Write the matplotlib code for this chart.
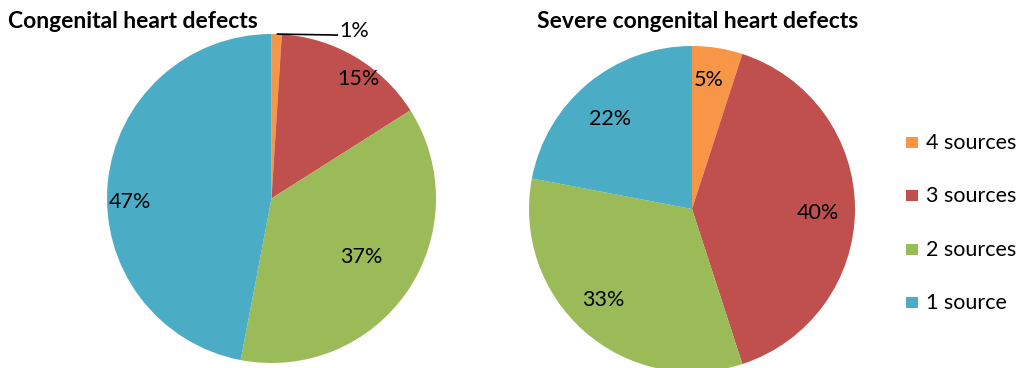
import matplotlib
matplotlib.use("Agg")
import matplotlib.pyplot as plt
from matplotlib.patches import Rectangle
import numpy as np

plt.rcParams['font.family'] = ['Lato', 'DejaVu Sans']

# Share of cases by number of ascertainment sources
series = ["4 sources", "3 sources", "2 sources", "1 source"]
colors = ["#F79646", "#C0504D", "#9BBB59", "#4BACC6"]
all_chd = [1, 15, 37, 47]
severe_chd = [5, 40, 33, 22]
titles = ["Congenital heart defects", "Severe congenital heart defects"]

W, H = 1034, 368
fig = plt.figure(figsize=(W / 100, H / 100), dpi=100)
LABEL_FS = 15.5
TITLE_FS = 16.5


def pie_axes(cx, cy, r):
    return fig.add_axes([(cx - r) / W, (H - cy - r) / H, 2 * r / W, 2 * r / H])


def draw_pie(ax, values, radial, angle_shift, outside=None):
    wedges, _ = ax.pie(values, colors=colors, startangle=90, counterclock=False,
                       radius=1, wedgeprops=dict(linewidth=0))
    ax.set_xlim(-1, 1)
    ax.set_ylim(-1, 1)
    ax.axis('off')
    for i, (w, v) in enumerate(zip(wedges, values)):
        mid = np.deg2rad((w.theta1 + w.theta2) / 2)
        txt = f"{v}%"
        if outside is not None and i == outside:
            x0, y0 = np.cos(mid), np.sin(mid)
            ax.plot([x0, 0.405], [y0, y0 - 0.006], color='black', lw=1.2,
                    clip_on=False, solid_capstyle='butt')
            ax.text(0.415, 1.018, txt, ha='left', va='center',
                    fontsize=LABEL_FS, clip_on=False)
            continue
        a = mid + np.deg2rad(angle_shift[i])
        ax.text(radial[i] * np.cos(a), radial[i] * np.sin(a), txt,
                ha='center', va='center', fontsize=LABEL_FS)


ax1 = pie_axes(271.5, 198.5, 164.5)
draw_pie(ax1, all_chd, radial=[0, 0.90, 0.65, 0.86],
         angle_shift=[0, -5.3, 1.0, 6.8], outside=0)

ax2 = pie_axes(692, 209, 163)
draw_pie(ax2, severe_chd, radial=[0.80, 0.77, 0.78, 0.75],
         angle_shift=[1.5, -1.8, -2.6, 2.8])

fig.text(8 / W, 1 - 22 / H, titles[0], ha='left', va='center',
         fontsize=TITLE_FS, fontweight='bold')
fig.text(697.5 / W, 1 - 22 / H, titles[1], ha='center', va='center',
         fontsize=TITLE_FS, fontweight='bold')

# Legend, drawn as a column of swatches and labels
for i, (name, col) in enumerate(zip(series, colors)):
    yc = 143 + i * 53.3
    fig.patches.append(Rectangle((906 / W, 1 - (yc + 5) / H), 12 / W, 11 / H,
                                 transform=fig.transFigure, facecolor=col,
                                 edgecolor='none'))
    fig.text(926 / W, 1 - yc / H, name, ha='left', va='center',
             fontsize=LABEL_FS)

fig.savefig("out.png", dpi=100)
